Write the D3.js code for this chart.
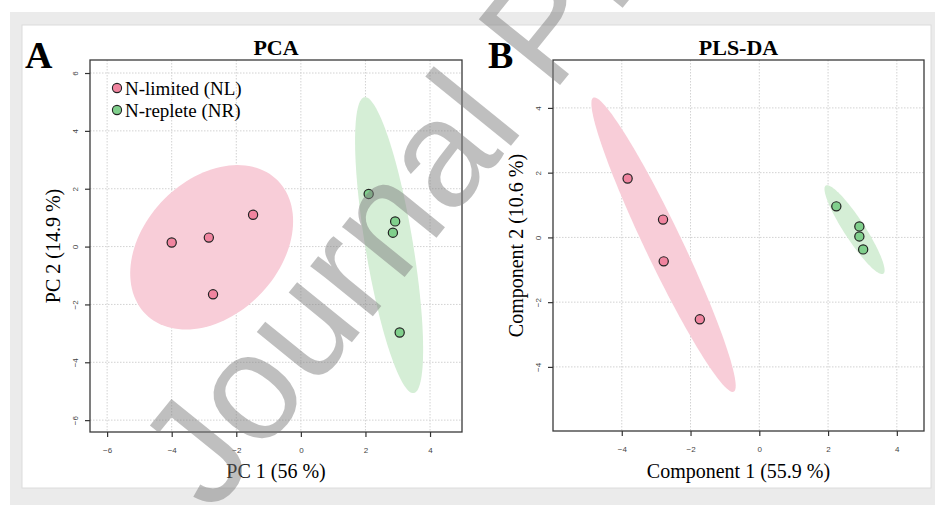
<!DOCTYPE html>
<html>
<head>
<meta charset="utf-8">
<script src="https://cdn.jsdelivr.net/npm/d3@7"></script>
<style>
body { margin: 0; background: #fff; }
</style>
</head>
<body>
<script>
// groups
const groups = ["N-limited (NL)", "N-replete (NR)"];

// PCA scores (PC1, PC2)
const pcaNLx = [-4.00, -2.85, -1.48, -2.72];
const pcaNLy = [0.14, 0.31, 1.10, -1.65];
const pcaNRx = [2.10, 2.92, 2.85, 3.06];
const pcaNRy = [1.82, 0.87, 0.48, -2.97];

// PLS-DA scores (component 1, component 2)
const plsNLx = [-3.83, -2.80, -2.78, -1.73];
const plsNLy = [1.82, 0.55, -0.74, -2.53];
const plsNRx = [2.24, 2.91, 2.91, 3.02];
const plsNRy = [0.96, 0.34, 0.03, -0.37];

// tick labels
const pcaXTicks = [-6, -4, -2, 0, 2, 4];
const pcaYTicks = [-6, -4, -2, 0, 2, 4, 6];
const plsXTicks = [-4, -2, 0, 2, 4];
const plsYTicks = [-4, -2, 0, 2, 4];

const ptFill = ["#f0849f", "#80cf8c"];
const ellFill = ["#f8cdd8", "#d5eed6"];

const W = 935, H = 505;
const serif = "'Liberation Serif', 'Times New Roman', serif";
const sans = "'Liberation Sans', Arial, sans-serif";

const svg = d3.select("body").append("svg")
    .attr("width", W)
    .attr("height", H);

// page backdrop
svg.append("rect").attr("x", 10).attr("y", 12).attr("width", 925).attr("height", 493).attr("fill", "#ebebeb");
svg.append("rect").attr("x", 22).attr("y", 25).attr("width", 909).attr("height", 463)
    .attr("fill", "#fff").attr("stroke", "#dcdcdc");

// 95% confidence ellipse, same as ellipse::ellipse(cov, level = 0.95)
function confEllipse(xs, ys) {
    const n = xs.length;
    const mx = d3.mean(xs), my = d3.mean(ys);
    const sx = d3.deviation(xs), sy = d3.deviation(ys);
    const r = d3.sum(xs, (v, i) => (v - mx) * (ys[i] - my)) / (n - 1) / (sx * sy);
    const t = Math.sqrt(5.991465), d = Math.acos(r);
    return d3.range(120).map(i => {
        const a = i / 120 * 2 * Math.PI;
        return [mx + t * sx * Math.cos(a + d / 2), my + t * sy * Math.cos(a - d / 2)];
    });
}

function drawPanel(p) {
    const x = d3.scaleLinear().domain(p.xDomain).range([p.left, p.right]);
    const y = d3.scaleLinear().domain(p.yDomain).range([p.bottom, p.top]);
    const g = svg.append("g");

    // grid
    g.selectAll(".gx").data(p.xTicks).join("line")
        .attr("x1", d => x(d)).attr("x2", d => x(d))
        .attr("y1", p.top).attr("y2", p.bottom)
        .attr("stroke", "#d2d2d2").attr("stroke-dasharray", "1.5,1.5");
    g.selectAll(".gy").data(p.yTicks).join("line")
        .attr("x1", p.left).attr("x2", p.right)
        .attr("y1", d => y(d)).attr("y2", d => y(d))
        .attr("stroke", "#d2d2d2").attr("stroke-dasharray", "1.5,1.5");

    // ellipses
    const line = d3.line().x(d => x(d[0])).y(d => y(d[1])).curve(d3.curveLinearClosed);
    p.sets.forEach((s, k) => {
        g.append("path")
            .attr("d", line(confEllipse(s[0], s[1])))
            .attr("fill", ellFill[k]);
    });

    // points
    p.sets.forEach((s, k) => {
        g.selectAll(null).data(s[0].map((v, i) => [v, s[1][i]])).join("circle")
            .attr("cx", d => x(d[0])).attr("cy", d => y(d[1]))
            .attr("r", 4.6)
            .attr("fill", ptFill[k]).attr("stroke", "#222").attr("stroke-width", 1.2);
    });

    // box
    g.append("rect")
        .attr("x", p.left).attr("y", p.top)
        .attr("width", p.right - p.left).attr("height", p.bottom - p.top)
        .attr("fill", "none").attr("stroke", "#3a3a3a").attr("stroke-width", 1.3);

    // axes
    const ax = g.append("g")
        .attr("transform", `translate(0, ${p.bottom})`)
        .call(d3.axisBottom(x).tickValues(p.xTicks).tickSize(5).tickFormat(d3.format("d")));
    ax.select(".domain").remove();
    ax.selectAll("line").attr("stroke", "#333").attr("stroke-width", 1.2);
    ax.selectAll("text").attr("y", 18).attr("dy", "0.35em")
        .attr("font-family", sans).attr("font-size", 8).attr("fill", "#444");

    const ay = g.append("g")
        .attr("transform", `translate(${p.left}, 0)`)
        .call(d3.axisLeft(y).tickValues(p.yTicks).tickSize(5).tickFormat(d3.format("d")));
    ay.select(".domain").remove();
    ay.selectAll("line").attr("stroke", "#333").attr("stroke-width", 1.2);
    ay.selectAll("text").attr("x", 0).attr("dy", "0.35em")
        .attr("transform", "translate(-15, 0) rotate(-90)")
        .attr("text-anchor", "middle")
        .attr("font-family", sans).attr("font-size", 8).attr("fill", "#444");

    const cx = (p.left + p.right) / 2, cy = (p.top + p.bottom) / 2;
    g.append("text").attr("x", cx).attr("y", 55)
        .attr("text-anchor", "middle").attr("font-family", serif)
        .attr("font-weight", "bold").attr("font-size", 22).text(p.title);
    g.append("text").attr("x", cx).attr("y", 478)
        .attr("text-anchor", "middle").attr("font-family", serif)
        .attr("font-size", 20).text(p.xLabel);
    g.append("text").attr("transform", `translate(${p.yLabelX}, ${cy}) rotate(-90)`)
        .attr("text-anchor", "middle").attr("font-family", serif)
        .attr("font-size", 20).text(p.yLabel);
    g.append("text").attr("x", p.letterX).attr("y", 68)
        .attr("font-family", serif).attr("font-weight", "bold")
        .attr("font-size", 38).text(p.letter);
    return g;
}

const pA = drawPanel({
    left: 90, right: 462, top: 60, bottom: 432,
    xDomain: [-6.53, 4.99], yDomain: [-6.41, 6.45],
    xTicks: pcaXTicks, yTicks: pcaYTicks,
    sets: [[pcaNLx, pcaNLy], [pcaNRx, pcaNRy]],
    title: "PCA", xLabel: "PC 1 (56 %)", yLabel: "PC 2 (14.9 %)",
    yLabelX: 60, letter: "A", letterX: 25
});

drawPanel({
    left: 553, right: 924, top: 60, bottom: 431,
    xDomain: [-6.0, 4.79], yDomain: [-5.98, 5.48],
    xTicks: plsXTicks, yTicks: plsYTicks,
    sets: [[plsNLx, plsNLy], [plsNRx, plsNRy]],
    title: "PLS-DA", xLabel: "Component 1 (55.9 %)", yLabel: "Component 2 (10.6 %)",
    yLabelX: 523, letter: "B", letterX: 488
});

// legend in panel A
const leg = pA.append("g");
groups.forEach((name, k) => {
    leg.append("circle").attr("cx", 117).attr("cy", 88 + k * 22).attr("r", 4.6)
        .attr("fill", ptFill[k]).attr("stroke", "#222").attr("stroke-width", 1.1);
    leg.append("text").attr("x", 125).attr("y", 88 + k * 22).attr("dy", "0.35em")
        .attr("font-family", serif).attr("font-size", 19).text(name);
});

// "Journal Pre-proof" watermark
svg.append("text")
    .attr("transform", "translate(212, 515) rotate(-51)")
    .attr("font-family", sans).attr("font-size", 152)
    .attr("fill", "#808080").attr("fill-opacity", 0.5)
    .text("Journal Pre-proof");
</script>
</body>
</html>
